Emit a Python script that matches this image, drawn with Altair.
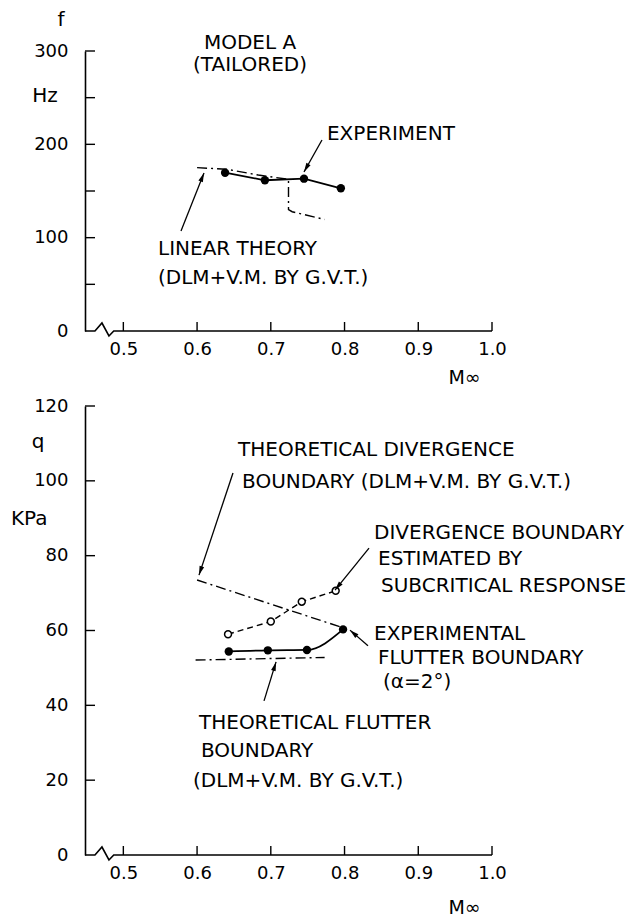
import math
import altair as alt
import pandas as pd

FONT = "DejaVu Sans"
FS = 20

# ---------------- data: upper panel (frequency f, Hz) ----------------
exp_M = [0.638, 0.692, 0.745, 0.795]
exp_f = [169.6, 161.5, 163.2, 152.9]
lin_M = [0.600, 0.640, 0.683, 0.724, 0.724, 0.729, 0.773]
lin_f = [175.0, 173.3, 167.1, 162.5, 130.0, 127.8, 119.5]

# ---------------- data: lower panel (dynamic pressure q, KPa) ----------------
flut_M = [0.643, 0.696, 0.749, 0.798]
flut_q = [54.4, 54.7, 54.8, 60.3]
divest_M = [0.642, 0.700, 0.742, 0.788]
divest_q = [59.0, 62.4, 67.7, 70.6]
divth_M = [0.600, 0.800]
divth_q = [73.5, 60.6]
fluth_M = [0.598, 0.773]
fluth_q = [52.1, 52.8]

# ---------------- axes ----------------
x_ticks = [0.5, 0.6, 0.7, 0.8, 0.9, 1.0]
f_ticks = [50, 100, 150, 200, 250, 300]
f_labels = [0, 100, 200, 300]
q_ticks = [20, 40, 60, 80, 100, 120]
q_labels = [0, 20, 40, 60, 80, 100, 120]
x_min, x_max = 0.448, 1.0
f_max, q_max = 300, 120

# ---------------- annotations ----------------
top_text_left = [("EXPERIMENT", 0.7762, 211.0),
                 ("LINEAR THEORY", 0.547, 87.9),
                 ("(DLM+V.M. BY G.V.T.)", 0.547, 56.8)]
top_text_center = [("MODEL A", 0.6718, 308.6),
                   ("(TAILORED)", 0.6718, 285.0)]
top_arrows = [(0.5782, 107.1, 0.6094, 169.3),
              (0.7694, 204.6, 0.7450, 170.4)]

bot_text_left = [("THEORETICAL DIVERGENCE", 0.6555, 108.2),
                 ("BOUNDARY  (DLM+V.M. BY G.V.T.)", 0.661, 99.7),
                 ("DIVERGENCE BOUNDARY", 0.840, 86.0),
                 ("ESTIMATED BY", 0.8454, 79.1),
                 ("SUBCRITICAL RESPONSE", 0.8495, 71.9),
                 ("EXPERIMENTAL", 0.840, 59.1),
                 ("FLUTTER BOUNDARY", 0.8454, 52.7),
                 ("(\u03b1=2\u00b0)", 0.8522, 46.2),
                 ("THEORETICAL FLUTTER", 0.6026, 35.3),
                 ("BOUNDARY", 0.6053, 27.8),
                 ("(DLM+V.M. BY G.V.T.)", 0.5945, 19.8)]
bot_arrows = [(0.6487, 102.1, 0.6026, 74.8),
              (0.8332, 82.0, 0.7871, 70.8),
              (0.8318, 55.9, 0.8074, 60.1),
              (0.6908, 41.2, 0.7071, 51.6)]

# axis break (zig-zag) on the M axis
break_M = [x_min, 0.4615, 0.471, 0.4805, 0.487, x_max]
break_dy_px = [0, 0, 8, -5, 0, 0]

W = 407
H1 = 280
H2 = 449

xscale = alt.Scale(domain=[x_min, x_max], zero=False, nice=False)


def x_axis(title_y):
    return alt.Axis(values=x_ticks, format=".1f", domain=False, ticks=False, grid=False,
                    labelPadding=9, labelFlush=False, labelOverlap=False,
                    title="M\u221e", titleX=379, titleY=title_y, titleBaseline="middle",
                    titleAlign="center", titleFontWeight="normal", titleFont=FONT,
                    titleFontSize=19)


def panel(ymax, H, yvals, ylabels, tick_len_y, text_left, text_center, arrows, series, side_labels,
          title_y):
    yscale = alt.Scale(domain=[0, ymax], nice=False, zero=True)
    xax = x_axis(title_y)
    yax = alt.Axis(values=ylabels, title=None, ticks=False, grid=False,
                   labelPadding=17, domainColor="black", domainWidth=1.6)
    ppx = W / (x_max - x_min)
    ppy = H / ymax
    base_x = alt.X("x:Q", scale=xscale, axis=xax)
    base_y = alt.Y("y:Q", scale=yscale, axis=yax)
    layers = []

    # horizontal axis line with break
    brk = pd.DataFrame({"x": break_M, "y": [d / ppy for d in break_dy_px],
                        "i": list(range(len(break_M)))})
    layers.append(alt.Chart(brk).mark_line(color="black", strokeWidth=1.6).encode(
        x=base_x, y=base_y, order="i:Q"))

    # inward ticks
    layers.append(alt.Chart(pd.DataFrame({"y": yvals})).mark_rule(color="black", strokeWidth=1.4).encode(
        y=base_y, x=alt.value(0), x2=alt.value(tick_len_y)))
    layers.append(alt.Chart(pd.DataFrame({"x": x_ticks})).mark_rule(color="black", strokeWidth=1.4).encode(
        x=base_x, y=alt.value(H), y2=alt.value(H - 9)))

    # data series
    layers.extend(series(base_x, base_y))

    # texts
    if text_left:
        tl = pd.DataFrame(text_left, columns=["t", "x", "y"])
        layers.append(alt.Chart(tl).mark_text(align="left", baseline="middle", font=FONT,
                                              fontSize=FS, color="black").encode(
            x=base_x, y=base_y, text="t:N"))
    if text_center:
        tc = pd.DataFrame(text_center, columns=["t", "x", "y"])
        layers.append(alt.Chart(tc).mark_text(align="center", baseline="middle", font=FONT,
                                              fontSize=FS, color="black").encode(
            x=base_x, y=base_y, text="t:N"))

    # side labels (unit/quantity) in pixel space
    sl = pd.DataFrame(side_labels, columns=["t", "px", "py", "al"])
    for al in ["left", "center"]:
        sub = sl[sl["al"] == al]
        if len(sub):
            layers.append(alt.Chart(sub).mark_text(align=al, baseline="middle", font=FONT,
                                                   fontSize=20, color="black").encode(
                x=alt.X("px:Q", scale=None), y=alt.Y("py:Q", scale=None), text="t:N"))

    # arrows
    ar = pd.DataFrame(arrows, columns=["x", "y", "x2", "y2"])
    ar["ang"] = [(math.degrees(math.atan2((r.x2 - r.x) * ppx, (r.y2 - r.y) * ppy)) + 360) % 360
                 for r in ar.itertuples()]
    layers.append(alt.Chart(ar).mark_rule(color="black", strokeWidth=1.3).encode(
        x=base_x, y=base_y, x2="x2:Q", y2="y2:Q"))
    head = alt.Chart(ar).mark_point(shape="M0,0L0.42,1.6L-0.42,1.6Z", filled=True, color="black",
                                    opacity=1, size=130).encode(
        x=alt.X("x2:Q", scale=xscale, axis=xax), y=alt.Y("y2:Q", scale=yscale, axis=yax),
        angle=alt.Angle("ang:Q", scale=None))
    layers.append(head)

    return alt.layer(*layers).properties(width=W, height=H)


def top_series(bx, by):
    lin = pd.DataFrame({"x": lin_M, "y": lin_f, "i": list(range(len(lin_M)))})
    ex = pd.DataFrame({"x": exp_M, "y": exp_f})
    return [
        alt.Chart(lin).mark_line(color="black", strokeWidth=1.4, strokeDash=[10, 4, 2, 4]).encode(
            x=bx, y=by, order="i:Q"),
        alt.Chart(ex).mark_line(color="black", strokeWidth=1.8).encode(x=bx, y=by),
        alt.Chart(ex).mark_circle(color="black", size=70, opacity=1).encode(x=bx, y=by),
    ]


def bot_series(bx, by):
    fl = pd.DataFrame({"x": flut_M, "y": flut_q})
    de = pd.DataFrame({"x": divest_M, "y": divest_q})
    dt = pd.DataFrame({"x": divth_M, "y": divth_q})
    ft = pd.DataFrame({"x": fluth_M, "y": fluth_q})
    return [
        alt.Chart(dt).mark_line(color="black", strokeWidth=1.4, strokeDash=[10, 4, 2, 4]).encode(x=bx, y=by),
        alt.Chart(ft).mark_line(color="black", strokeWidth=1.4, strokeDash=[10, 4, 2, 4]).encode(x=bx, y=by),
        alt.Chart(de).mark_line(color="black", strokeWidth=1.4, strokeDash=[6, 4]).encode(x=bx, y=by),
        alt.Chart(fl).mark_line(color="black", strokeWidth=1.8, interpolate="monotone").encode(x=bx, y=by),
        alt.Chart(fl).mark_circle(color="black", size=70, opacity=1).encode(x=bx, y=by),
        alt.Chart(de).mark_point(shape="circle", filled=True, fill="white", stroke="black",
                                 strokeWidth=1.5, size=48, opacity=1).encode(x=bx, y=by),
    ]


top = panel(f_max, H1, f_ticks, f_labels, 10, top_text_left, top_text_center, top_arrows,
            top_series, [("f", -24, -31, "center"), ("Hz", -40, 45, "center")], 46)
bottom = panel(q_max, H2, q_ticks, q_labels, 10, bot_text_left, None, bot_arrows,
               bot_series, [("q", -47, 36, "center"), ("KPa", -74, 113, "left")], 52)

chart = alt.vconcat(top, bottom, spacing=75, bounds="flush").properties(
    padding={"left": 3, "top": 2, "right": 0, "bottom": 2}
).configure_view(stroke=None).configure_axis(
    labelFont=FONT, labelFontSize=18, labelColor="black", domainColor="black",
    domainWidth=1.6, grid=False
)

chart.save("out.html", embed_options={"renderer": "svg", "actions": False})
